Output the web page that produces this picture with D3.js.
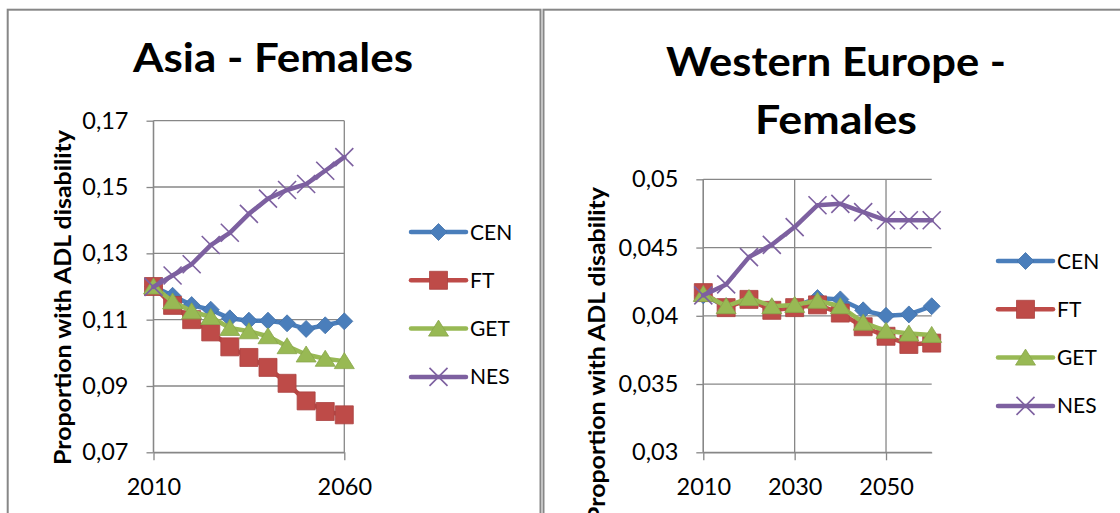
<!DOCTYPE html>
<html>
<head>
<meta charset="utf-8">
<script src="https://cdn.jsdelivr.net/npm/d3@7"></script>
<style>
  html, body { margin: 0; padding: 0; background: #fff; }
  svg { display: block; font-family: Lato, Calibri, "Open Sans", sans-serif; }
</style>
</head>
<body>
<div id="chart"></div>
<script>
// categories shared by both panels
const years = [2010, 2015, 2020, 2025, 2030, 2035, 2040, 2045, 2050, 2055, 2060];
const seriesNames = ['CEN', 'FT', 'GET', 'NES'];

// Asia - Females
const asiaCEN = [0.1200, 0.1172, 0.1144, 0.1130, 0.1104, 0.1097, 0.1097, 0.1089, 0.1072, 0.1083, 0.1095];
const asiaFT  = [0.1200, 0.1143, 0.1100, 0.1063, 0.1018, 0.0986, 0.0956, 0.0908, 0.0855, 0.0823, 0.0813];
const asiaGET = [0.1200, 0.1155, 0.1125, 0.1108, 0.1075, 0.1065, 0.1050, 0.1020, 0.0995, 0.0982, 0.0975];
const asiaNES = [0.1199, 0.1233, 0.1267, 0.1325, 0.1362, 0.1419, 0.1465, 0.1491, 0.1509, 0.1549, 0.1590];
const asiaYTicks = [0.07, 0.09, 0.11, 0.13, 0.15, 0.17];
const asiaXTicks = [2010, 2060];

// Western Europe - Females
const weCEN = [0.0415, 0.0407, 0.0412, 0.0406, 0.0407, 0.0413, 0.0412, 0.0404, 0.0400, 0.0401, 0.0407];
const weFT  = [0.0417, 0.0406, 0.0412, 0.0404, 0.0406, 0.0408, 0.0402, 0.0392, 0.0385, 0.0379, 0.0380];
const weGET = [0.0416, 0.0407, 0.0413, 0.0407, 0.0408, 0.0411, 0.0407, 0.0395, 0.0389, 0.0387, 0.0386];
const weNES = [0.0415, 0.0423, 0.0443, 0.0452, 0.0465, 0.0481, 0.0482, 0.0476, 0.0470, 0.0470, 0.0470];
const weYTicks = [0.03, 0.035, 0.04, 0.045, 0.05];
const weXTicks = [2010, 2030, 2050];

(function () {
    const W = 1120, H = 513;
    const gridColor = '#878787';
    const colors = { CEN: '#4A7EBB', FT: '#BE4B48', GET: '#98B954', NES: '#7D60A0' };
    const markerKind = { CEN: 'diamond', FT: 'square', GET: 'triangle', NES: 'cross' };

    const svg = d3.select('#chart').append('svg')
        .attr('width', W).attr('height', H)
        .attr('viewBox', `0 0 ${W} ${H}`);

    // chart frames
    svg.append('rect').attr('x', 7.7).attr('y', 9.7).attr('width', 532.8).attr('height', 600)
        .attr('fill', 'none').attr('stroke', gridColor).attr('stroke-width', 2);
    svg.append('rect').attr('x', 543.5).attr('y', 9.7).attr('width', 700).attr('height', 600)
        .attr('fill', 'none').attr('stroke', gridColor).attr('stroke-width', 2);

    function markerPath(kind) {
        if (kind === 'diamond') return 'M0,-8.5L8.5,0L0,8.5L-8.5,0Z';
        if (kind === 'square') return 'M-9,-9H9V9H-9Z';
        if (kind === 'triangle') return 'M0,-8.5L10,7.5L-10,7.5Z';
        return 'M-9,-9L9,9M-9,9L9,-9';
    }

    function drawMarker(g, name, x, y) {
        const kind = markerKind[name];
        const p = g.append('path')
            .attr('d', markerPath(kind))
            .attr('transform', `translate(${x},${y})`);
        if (kind === 'cross') {
            p.attr('fill', 'none').attr('stroke', colors[name]).attr('stroke-width', 1.6);
        } else {
            p.attr('fill', colors[name]).attr('stroke', d3.color(colors[name]).darker(0.3)).attr('stroke-width', 0.8);
        }
    }

    const fmt = d => String(d).replace('.', ',');

    function drawChart(cfg) {
        const g = svg.append('g');
        const x = d3.scalePoint().domain(years).range([cfg.left, cfg.right]);
        const y = d3.scaleLinear().domain(cfg.yDomain).range([cfg.bottom, cfg.top]);

        // title
        const title = g.append('text')
            .attr('text-anchor', 'middle')
            .attr('font-weight', 'bold')
            .attr('font-size', 41)
            .attr('fill', '#000');
        cfg.title.forEach((line, i) => {
            title.append('tspan')
                .attr('x', cfg.titleX)
                .attr('y', cfg.titleY + i * 58)
                .attr('textLength', cfg.titleWidths[i])
                .attr('lengthAdjust', 'spacingAndGlyphs')
                .text(line);
        });

        // gridlines
        g.append('g').selectAll('line').data(cfg.yTicks).enter().append('line')
            .attr('x1', cfg.left).attr('x2', cfg.right)
            .attr('y1', d => y(d)).attr('y2', d => y(d))
            .attr('stroke', gridColor).attr('stroke-width', 1.3);
        g.append('g').selectAll('line').data(cfg.xTicks).enter().append('line')
            .attr('x1', d => x(d)).attr('x2', d => x(d))
            .attr('y1', cfg.top).attr('y2', cfg.bottom)
            .attr('stroke', gridColor).attr('stroke-width', 1.3);

        // axes
        const yAxis = g.append('g')
            .attr('transform', `translate(${cfg.left},0)`)
            .call(d3.axisLeft(y).tickValues(cfg.yTicks).tickFormat(fmt)
                .tickSize(7).tickSizeOuter(0).tickPadding(18));
        const xAxis = g.append('g')
            .attr('transform', `translate(0,${cfg.bottom})`)
            .call(d3.axisBottom(x).tickValues(cfg.xTicks)
                .tickSize(8).tickSizeOuter(0).tickPadding(18));
        [yAxis, xAxis].forEach(a => {
            a.select('.domain').attr('stroke', gridColor).attr('stroke-width', 1.3);
            a.selectAll('.tick line').attr('stroke', gridColor).attr('stroke-width', 1.3);
            a.selectAll('.tick text').attr('fill', '#000')
                .attr('font-size', 23.5).attr('font-family', 'Lato, Calibri, sans-serif');
        });
        // y axis line spans the plot only
        yAxis.select('.domain').attr('d', `M0,${cfg.top}V${cfg.bottom}`);

        // y axis title
        g.append('text')
            .attr('transform', `translate(${cfg.yTitleX},${cfg.yTitleY}) rotate(-90)`)
            .attr('text-anchor', 'middle')
            .attr('font-weight', 'bold')
            .attr('font-size', 23)
            .attr('textLength', 335)
            .attr('lengthAdjust', 'spacingAndGlyphs')
            .text('Proportion with ADL disability');

        // series
        const line = d3.line().x((d, i) => x(years[i])).y(d => y(d));
        seriesNames.forEach(name => {
            const vals = cfg.series[name];
            const sg = g.append('g');
            sg.append('path').datum(vals)
                .attr('d', line)
                .attr('fill', 'none')
                .attr('stroke', colors[name])
                .attr('stroke-width', 4.5)
                .attr('stroke-linejoin', 'round')
                .attr('stroke-linecap', 'round');
            vals.forEach((v, i) => drawMarker(sg, name, x(years[i]), y(v)));
        });

        // legend
        seriesNames.forEach((name, i) => {
            const ly = cfg.legendY + i * 48.3;
            const lg = g.append('g');
            lg.append('line')
                .attr('x1', cfg.legendX).attr('x2', cfg.legendX + 55)
                .attr('y1', ly).attr('y2', ly)
                .attr('stroke', colors[name]).attr('stroke-width', 4.5)
                .attr('stroke-linecap', 'round');
            drawMarker(lg, name, cfg.legendX + 27.5, ly);
            lg.append('text')
                .attr('x', cfg.legendX + 59)
                .attr('y', ly + 7.5)
                .attr('font-size', 21)
                .attr('fill', '#000')
                .text(name);
        });
    }

    drawChart({
        title: ['Asia - Females'], titleX: 273, titleY: 72, titleWidths: [280],
        left: 153.5, right: 344.3, top: 120.7, bottom: 452.3,
        yDomain: [0.07, 0.17], yTicks: asiaYTicks, xTicks: asiaXTicks,
        yTitleX: 71, yTitleY: 297.5,
        legendX: 411, legendY: 232,
        series: { CEN: asiaCEN, FT: asiaFT, GET: asiaGET, NES: asiaNES }
    });

    drawChart({
        title: ['Western Europe -', 'Females'], titleX: 836, titleY: 76, titleWidths: [340, 162],
        left: 703.3, right: 931.7, top: 179.3, bottom: 452.3,
        yDomain: [0.03, 0.05], yTicks: weYTicks, xTicks: weXTicks,
        yTitleX: 605, yTitleY: 354.5,
        legendX: 998, legendY: 261,
        series: { CEN: weCEN, FT: weFT, GET: weGET, NES: weNES }
    });
})();
</script>
</body>
</html>
